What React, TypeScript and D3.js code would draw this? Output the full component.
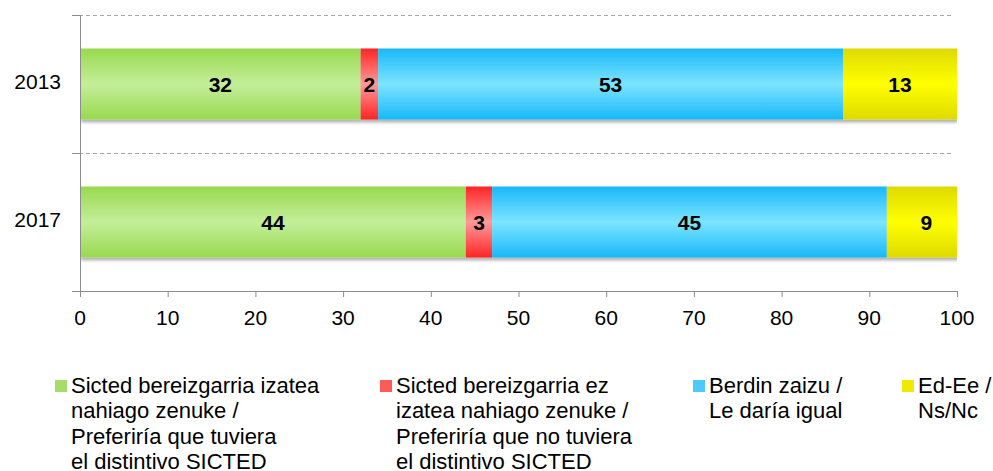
import React from "react";
import * as d3 from "d3";

const years = ["2013", "2017"];
const values2013 = [32, 2, 53, 13];
const values2017 = [44, 3, 45, 9];
const xTicks = [0, 10, 20, 30, 40, 50, 60, 70, 80, 90, 100];
const legendLabels = [
  ["Sicted bereizgarria izatea", "nahiago zenuke /", "Preferiría que tuviera", "el distintivo SICTED"],
  ["Sicted bereizgarria ez", "izatea nahiago zenuke /", "Preferiría que no tuviera", "el distintivo SICTED"],
  ["Berdin zaizu /", "Le daría igual"],
  ["Ed-Ee /", "Ns/Nc"],
];

const gradients = [
  { edge: "#98D94E", mid: "#C4EE9A" },
  { edge: "#FF2424", mid: "#FF9999" },
  { edge: "#18B8F8", mid: "#7CE5FF" },
  { edge: "#DEDA00", mid: "#FFFF00" },
];
const legendColors = ["#A6DD6A", "#FF5A5A", "#4CCBFA", "#EEEA00"];
const legendX = [55, 380, 693, 902];

export default function App() {
  const W = 993, H = 471;
  const left = 80, right = 957, top = 15, bottom = 291;
  const x = d3.scaleLinear().domain([0, 100]).range([left, right]);
  const y = d3.scaleBand().domain(years).range([top, bottom]).paddingInner(0).paddingOuter(0);
  const barH = 71;
  const data = [values2013, values2017];
  const font = "'Liberation Sans', Arial, sans-serif";

  return (
    <svg width={W} height={H} style={{ position: "absolute", left: 0, top: 0, background: "#fff" }} fontFamily={font}>
      <defs>
        {gradients.map((g, i) => (
          <linearGradient key={i} id={`g${i}`} x1="0" y1="0" x2="0" y2="1">
            <stop offset="0" stopColor={g.edge} />
            <stop offset="0.5" stopColor={g.mid} />
            <stop offset="1" stopColor={g.edge} />
          </linearGradient>
        ))}
        <filter id="shadow" x="-5%" y="-20%" width="110%" height="150%">
          <feGaussianBlur in="SourceAlpha" stdDeviation="1.5" />
          <feOffset dx="1" dy="3" result="b" />
          <feComponentTransfer><feFuncA type="linear" slope="0.3" /></feComponentTransfer>
          <feMerge><feMergeNode /><feMergeNode in="SourceGraphic" /></feMerge>
        </filter>
        <clipPath id="plotclip">
          <rect x={left} y={top} width={right - left} height={bottom - top} />
        </clipPath>
      </defs>
      {[top, (y("2017") as number)].map((gy, i) => (
        <line key={i} x1={72} x2={953} y1={gy + 0.5} y2={gy + 0.5} stroke="#A6A6A6" strokeDasharray="4,3" />
      ))}
      <g clipPath="url(#plotclip)">
        {years.map((yr, r) => {
          const cy = (y(yr) as number) + y.bandwidth() / 2;
          const y0 = cy - barH / 2;
          const stacked = d3.cumsum(data[r]);
          return (
            <g key={yr} filter="url(#shadow)">
              {data[r].map((v, i) => {
                const x0 = x(stacked[i] - v);
                const x1 = x(stacked[i]);
                return <rect key={i} x={x0} y={y0} width={x1 - x0} height={barH} fill={`url(#g${i})`} />;
              })}
            </g>
          );
        })}
      </g>
      {years.map((yr, r) => {
        const cy = (y(yr) as number) + y.bandwidth() / 2;
        const stacked = d3.cumsum(data[r]);
        return (
          <g key={"l" + yr}>
            {data[r].map((v, i) => (
              <text key={i} x={x(stacked[i] - v / 2)} y={cy + 7.5} textAnchor="middle" fontSize={21} fontWeight="bold" fill="#000">
                {v}
              </text>
            ))}
            <text x={61} y={cy + 4.5} textAnchor="end" fontSize={21} fill="#000">{yr}</text>
          </g>
        );
      })}
      <line x1={left + 0.5} x2={left + 0.5} y1={top} y2={bottom + 5} stroke="#8C8C8C" />
      <line x1={left} x2={right} y1={bottom + 0.5} y2={bottom + 0.5} stroke="#8C8C8C" />
      {[top, (y("2017") as number), bottom].map((ty, i) => (
        <line key={"yt" + i} x1={72} x2={left} y1={ty + 0.5} y2={ty + 0.5} stroke="#8C8C8C" />
      ))}
      {xTicks.map((t) => (
        <g key={t}>
          <line x1={x(t) + 0.5} x2={x(t) + 0.5} y1={bottom} y2={bottom + 6} stroke="#8C8C8C" />
          <text x={x(t)} y={325} textAnchor="middle" fontSize={21} fill="#000">{t}</text>
        </g>
      ))}
      {legendLabels.map((lines, i) => (
        <g key={"lg" + i}>
          <rect x={legendX[i]} y={380} width={12} height={12} fill={legendColors[i]} />
          {lines.map((ln, j) => (
            <text key={j} x={legendX[i] + 16} y={392.5 + j * 25.5} fontSize={22} fill="#000">{ln}</text>
          ))}
        </g>
      ))}
    </svg>
  );
}
